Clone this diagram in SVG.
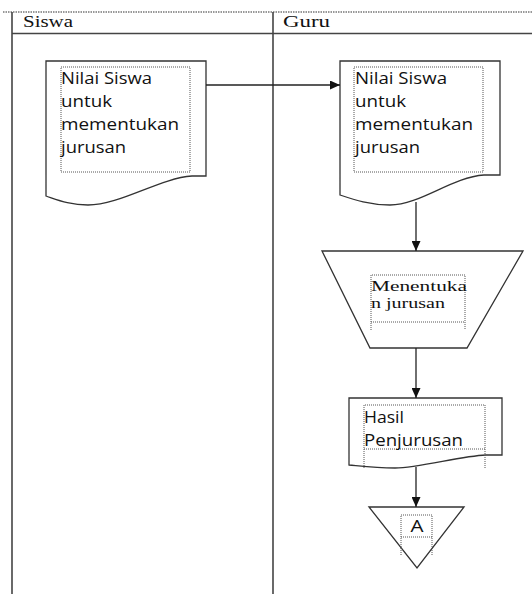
<svg xmlns="http://www.w3.org/2000/svg" width="532" height="594" viewBox="0 0 532 594">
<defs>
<marker id="ah" markerUnits="userSpaceOnUse" markerWidth="11" markerHeight="9" refX="10" refY="4.5" orient="auto">
<path d="M0,0 L10,4.5 L0,9 Z" fill="#111"/>
</marker>
<style>
.lane{stroke:#444;stroke-width:1.6;fill:none}
.shape{fill:#fff;stroke:#333;stroke-width:1.3}
.dot{fill:none;stroke:#555;stroke-width:1;stroke-dasharray:1 1}
.conn{stroke:#222;stroke-width:1.3;fill:none}
.hdr{font-family:"Liberation Serif","Times New Roman",serif;font-size:16px;fill:#111}
.t{font-family:"Open Sans","Liberation Sans",sans-serif;font-size:16px;fill:#111}
.ts{font-family:"Liberation Serif","Times New Roman",serif;font-size:15.5px;fill:#111}
</style>
</defs>
<rect width="532" height="594" fill="#fff"/>
<g id="lanes">
<line x1="3" y1="12" x2="532" y2="12" stroke="#777" stroke-width="1.5" stroke-dasharray="1.5 1"/>
<line class="lane" x1="12" y1="12" x2="12" y2="594"/>
<line class="lane" x1="273" y1="12" x2="273" y2="594"/>
<line class="lane" x1="12" y1="33.5" x2="532" y2="33.5"/>
<text class="hdr" x="23" y="27" textLength="50" lengthAdjust="spacingAndGlyphs">Siswa</text>
<text class="hdr" x="283" y="27" textLength="47" lengthAdjust="spacingAndGlyphs">Guru</text>
</g>
<g id="doc-siswa">
<path class="shape" d="M46,61 H206 V176 H192 C160,178 120,205 88,205 C70,205 58,200 46,196 Z"/>
<rect class="dot" x="61" y="67" width="129" height="105"/>
<text class="t" x="61" y="84" textLength="91" lengthAdjust="spacingAndGlyphs">Nilai Siswa</text>
<text class="t" x="61" y="107" textLength="51" lengthAdjust="spacingAndGlyphs">untuk</text>
<text class="t" x="61" y="130" textLength="118" lengthAdjust="spacingAndGlyphs">mementukan</text>
<text class="t" x="61" y="153" textLength="65" lengthAdjust="spacingAndGlyphs">jurusan</text>
</g>
<g id="doc-guru">
<path class="shape" d="M340,61 H500 V175 H484 C452,177 420,205 390,205 C370,205 355,200 340,195 Z"/>
<rect class="dot" x="354" y="67" width="129" height="105"/>
<text class="t" x="355" y="84" textLength="92" lengthAdjust="spacingAndGlyphs">Nilai Siswa</text>
<text class="t" x="355" y="107" textLength="51" lengthAdjust="spacingAndGlyphs">untuk</text>
<text class="t" x="355" y="130" textLength="118" lengthAdjust="spacingAndGlyphs">mementukan</text>
<text class="t" x="355" y="153" textLength="65" lengthAdjust="spacingAndGlyphs">jurusan</text>
</g>
<g id="manual-op">
<path class="shape" d="M322,251 H523 L467,348 H370 Z"/>
<path class="dot" d="M371,330 V275 H465 V330 M371,322 H465"/>
<text class="ts" x="371" y="291" textLength="96" lengthAdjust="spacingAndGlyphs">Menentuka</text>
<text class="ts" x="371" y="308" textLength="74" lengthAdjust="spacingAndGlyphs">n jurusan</text>
</g>
<g id="doc-hasil">
<path class="shape" d="M349,398 H502 V455 H486 C460,456 420,468 395,468 C375,468 360,466 349,465 Z"/>
<path class="dot" d="M364,468 V405 H485 V468 M364,449 H485"/>
<text class="t" x="364" y="423" textLength="40" lengthAdjust="spacingAndGlyphs">Hasil</text>
<text class="t" x="364" y="446" textLength="99" lengthAdjust="spacingAndGlyphs">Penjurusan</text>
</g>
<g id="connector-a">
<path class="shape" d="M369,507 H464 L417,568 Z"/>
<path class="dot" d="M401,555 V515 H432 V555 M401,537 H432"/>
<text class="t" x="417" y="532" text-anchor="middle" font-size="15" textLength="13" lengthAdjust="spacingAndGlyphs">A</text>
</g>
<g id="connectors">
<line class="conn" x1="206" y1="85" x2="340" y2="85" marker-end="url(#ah)"/>
<line class="conn" x1="416" y1="202" x2="416" y2="251" marker-end="url(#ah)"/>
<line class="conn" x1="416" y1="348" x2="416" y2="398" marker-end="url(#ah)"/>
<line class="conn" x1="416" y1="467" x2="416" y2="507" marker-end="url(#ah)"/>
</g>
</svg>
